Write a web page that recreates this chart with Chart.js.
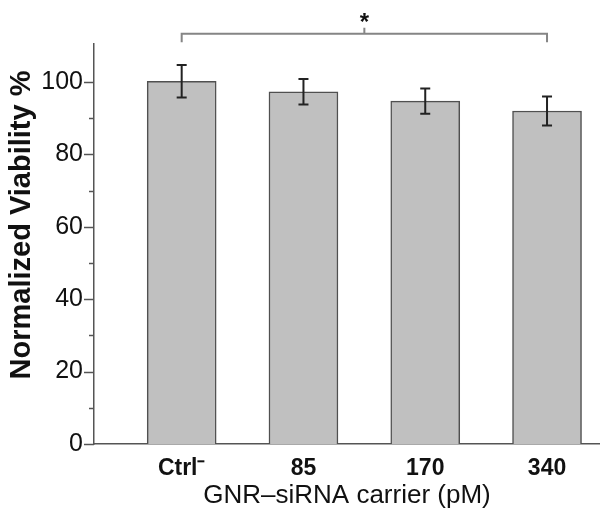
<!DOCTYPE html>
<html>
<head>
<meta charset="utf-8">
<script src="https://cdn.jsdelivr.net/npm/chart.js@4"></script>
<style>
	html, body { margin: 0; padding: 0; background: #fff; }
	#wrap { width: 600px; height: 510px; }
</style>
</head>
<body>
<div id="wrap"><canvas id="CanvasViability"></canvas></div>
<script>
// data
var categories = ['Ctrl\u207B', '85', '170', '340'];
var positions = [1, 2, 3, 4];
var viability = [100.2, 97.3, 94.7, 92.0];
var errors = [4.5, 3.5, 3.5, 4.0];
var yTicks = [0, 10, 20, 30, 40, 50, 60, 70, 80, 90, 100];
var yTitle = 'Normalized Viability %';
var xTitle = 'GNR\u2013siRNA carrier (pM)';

// significance bracket: from category 1 to 4, label in the middle
var bracketFrom = 1;
var bracketTo = 4;
var bracketLevel = 113.3;
var bracketDrop = 111.0;
var bracketLabel = '*';

var axisColor = '#555555';
var textColor = '#111111';
var fontFamily = '"Liberation Sans", Arial, sans-serif';

var points = [];
for (var i = 0; i < positions.length; i++) {
	points.push({ x: positions[i], y: viability[i] });
}

function $each(arr, fn) {
	for (var i = 0; i < arr.length; i++) fn(arr[i], i);
}

// draw error bars, y tick marks, y title and the bracket
var extrasPlugin = {
	id: 'extras',
	afterDatasetsDraw: function (chart) {
		var ctx = chart.ctx;
		var xs = chart.scales.x;
		var ys = chart.scales.y;

		// error bars
		ctx.save();
		ctx.strokeStyle = '#222222';
		ctx.lineWidth = 2;
		for (var i = 0; i < positions.length; i++) {
			var px = xs.getPixelForValue(positions[i]);
			var top = ys.getPixelForValue(viability[i] + errors[i]);
			var bot = ys.getPixelForValue(viability[i] - errors[i]);
			ctx.beginPath();
			ctx.moveTo(px, top); ctx.lineTo(px, bot);
			ctx.moveTo(px - 5, top); ctx.lineTo(px + 5, top);
			ctx.moveTo(px - 5, bot); ctx.lineTo(px + 5, bot);
			ctx.stroke();
		}
		ctx.restore();
	},
	afterDraw: function (chart) {
		var ctx = chart.ctx;
		var xs = chart.scales.x;
		var ys = chart.scales.y;
		var left = chart.chartArea.left;

		// y tick marks, long on labelled ticks and short in between
		ctx.save();
		ctx.strokeStyle = axisColor;
		ctx.lineWidth = 1.5;
		$each(yTicks, function (v) {
			var py = Math.round(ys.getPixelForValue(v)) + 0.5;
			var len = (v % 20 === 0) ? 10 : 5;
			ctx.beginPath();
			ctx.moveTo(left - len, py);
			ctx.lineTo(left, py);
			ctx.stroke();
		});
		ctx.restore();

		// y title, sits a little above the axis centre in the original
		ctx.save();
		ctx.translate(22, ys.getPixelForValue(60.5));
		ctx.rotate(-Math.PI / 2);
		ctx.fillStyle = textColor;
		ctx.font = 'bold 29px ' + fontFamily;
		ctx.textAlign = 'center';
		ctx.textBaseline = 'middle';
		ctx.fillText(yTitle, 0, 0);
		ctx.restore();

		// bracket
		var x1 = xs.getPixelForValue(bracketFrom);
		var x2 = xs.getPixelForValue(bracketTo);
		var xm = (x1 + x2) / 2;
		var yl = ys.getPixelForValue(bracketLevel);
		var yd = ys.getPixelForValue(bracketDrop);
		ctx.save();
		ctx.strokeStyle = '#858585';
		ctx.lineWidth = 2;
		ctx.beginPath();
		ctx.moveTo(x1, yd); ctx.lineTo(x1, yl); ctx.lineTo(x2, yl); ctx.lineTo(x2, yd);
		ctx.moveTo(xm, yl); ctx.lineTo(xm, yl - 6);
		ctx.stroke();
		ctx.fillStyle = textColor;
		ctx.font = 'bold 24px ' + fontFamily;
		ctx.textAlign = 'center';
		ctx.textBaseline = 'middle';
		ctx.fillText(bracketLabel, xm, yl - 10);
		ctx.restore();
	}
};

const context = document.getElementById('CanvasViability');
const myChart = new Chart(context, {
	type: 'bar',
	data: {
		datasets: [{
			label: yTitle,
			data: points,
			backgroundColor: '#c0c0c0',
			borderColor: '#505050',
			borderWidth: 1.5,
			barThickness: 69
		}]
	},
	plugins: [extrasPlugin],
	options: {
		responsive: true,
		maintainAspectRatio: false,
		animation: false,
		layout: { padding: { top: 44, right: 0, left: 0, bottom: 0 } },
		plugins: {
			legend: { display: false },
			tooltip: { enabled: false }
		},
		scales: {
			x: {
				type: 'linear',
				offset: false,
				min: 0.28,
				max: 4.435,
				afterBuildTicks: function (scale) {
					scale.ticks = positions.map(function (v) { return { value: v }; });
				},
				afterFit: function (scale) { scale.height = 66; },
				grid: { display: false, drawTicks: false },
				border: { display: true, color: axisColor, width: 1.5 },
				ticks: {
					padding: 11,
					color: textColor,
					font: { family: fontFamily, size: 23, weight: 'bold' },
					callback: function (value, index) { return categories[index]; }
				},
				title: {
					display: true,
					text: xTitle,
					color: textColor,
					font: { family: fontFamily, size: 26, lineHeight: 1.2 },
					padding: { top: 0, bottom: -1 }
				}
			},
			y: {
				min: 0,
				max: 110.5,
				afterBuildTicks: function (scale) {
					scale.ticks = yTicks.map(function (v) { return { value: v }; });
				},
				afterFit: function (scale) { scale.width = 94; },
				grid: { display: false, drawTicks: false },
				border: { display: true, color: axisColor, width: 1.5 },
				ticks: {
					padding: 11,
					color: textColor,
					font: { family: fontFamily, size: 25 },
					callback: function (value) { return value % 20 === 0 ? value : ''; }
				},
				title: { display: false }
			}
		}
	}
});
</script>
</body>
</html>
